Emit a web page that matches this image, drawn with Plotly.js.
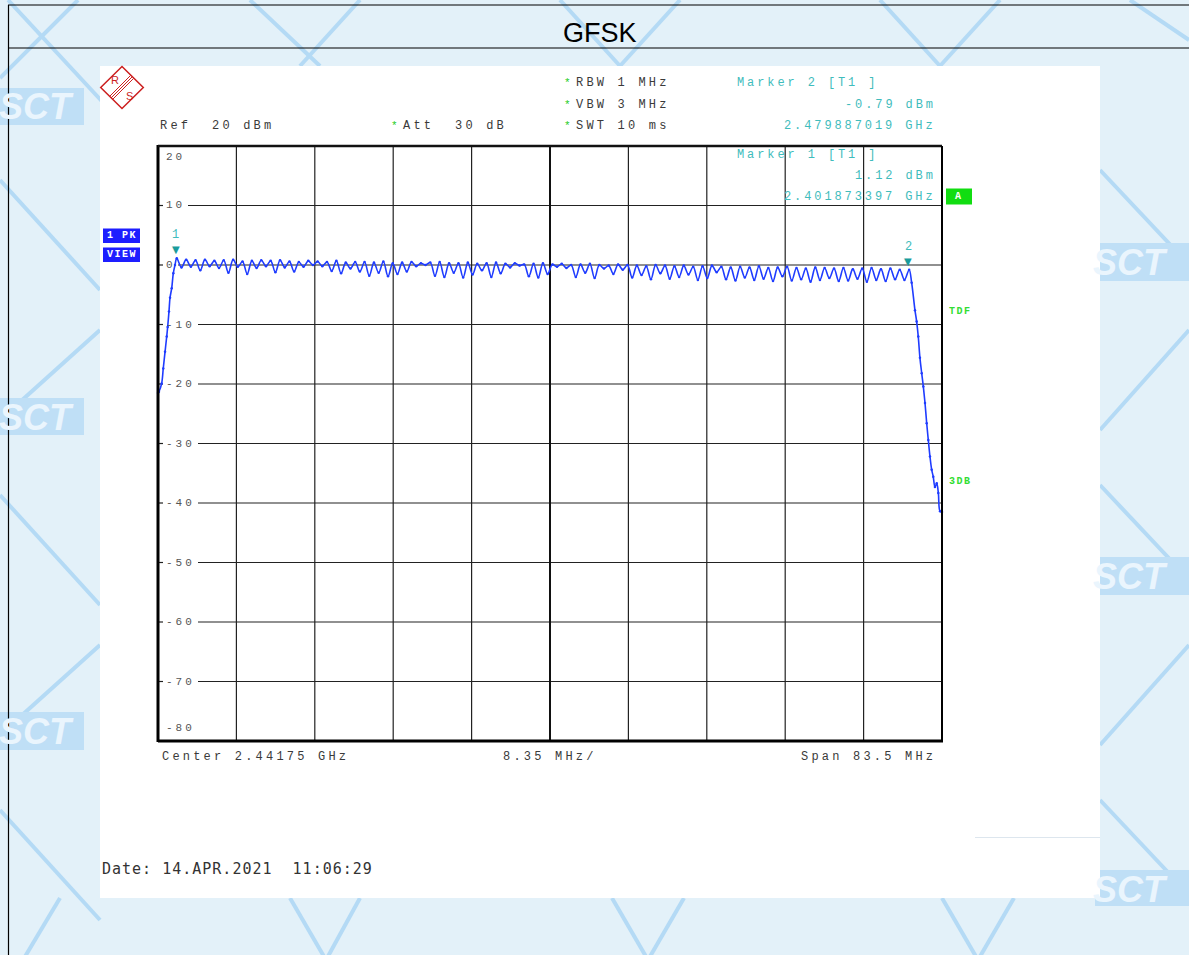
<!DOCTYPE html>
<html>
<head>
<meta charset="utf-8">
<script src="https://cdn.plot.ly/plotly-3.0.1.min.js"></script>
<style>html,body{margin:0;padding:0;background:#e3f1f9;}#chart{width:1189px;height:955px;}</style>
</head>
<body>
<div id="chart"></div>
<script>
// ---------------- DATA ----------------
const titleText = "GFSK";
const startMHz = 2400.0;
const stopMHz = 2483.5;
const refLevel = 20;
const bottomLevel = -80;
const yTickValues = [20, 10, 0, -10, -20, -30, -40, -50, -60, -70, -80];
const yTickLabels = ["20", "10", "0", "-10", "-20", "-30", "-40", "-50", "-60", "-70", "-80"];

// rising band edge (MHz, dBm)
const riseFreq = [2400.0, 2400.1, 2400.39, 2400.56, 2400.75, 2400.93, 2401.03, 2401.17, 2401.28, 2401.46, 2401.63, 2401.81];
const riseLevel = [-21.5, -21.3, -19.9, -17.4, -14.6, -12.0, -10.4, -7.8, -5.5, -3.9, -1.4, 0.0];

// hopping channel peaks 2402..2480 MHz (dBm)
const channelPeaks = [
  1.12, 0.9, 0.8, 0.9, 0.7, 0.8, 0.9, 0.6, 0.7, 0.8,
  0.7, 0.8, 0.6, 0.5, 0.7, 0.6, 0.5, 0.7, 0.4, 0.5,
  0.5, 0.4, 0.6, 0.3, 0.4, 0.5, 0.3, 0.4, 0.5, 0.3,
  0.3, 0.4, 0.2, 0.3, 0.4, 0.2, 0.3, 0.1, 0.2, 0.3,
  0.1, 0.2, 0.0, 0.1, 0.2, 0.0, -0.1, 0.1, 0.0, -0.1,
  -0.2, 0.0, -0.1, -0.2, -0.1, -0.3, -0.2, -0.1, -0.3, -0.4,
  -0.3, -0.4, -0.2, -0.5, -0.4, -0.3, -0.5, -0.6, -0.4, -0.5,
  -0.6, -0.5, -0.7, -0.6, -0.5, -0.7, -0.6, -0.8, -0.79
];
// dips between channels 2402.5..2479.5 MHz (dBm)
const channelDips = [
  -0.4, -0.3, -0.9, -0.2, -0.5, -1.3, -0.3, -1.5, -0.5, -0.2,
  -1.2, -0.4, -1.1, -0.3, 0.0, -0.2, -1.0, -1.4, -0.6, -1.1,
  -1.8, -1.3, -1.9, -1.5, -1.1, -0.2, 0.0, -1.8, -2.0, -1.3,
  -2.1, -1.6, -0.9, -2.0, -1.4, -0.4, -0.1, -1.9, -2.1, -1.5,
  -0.3, -0.5, -2.0, -1.3, -2.2, -0.6, -1.5, -0.8, -2.1, -1.7,
  -2.4, -1.4, -2.3, -2.0, -1.6, -2.5, -2.2, -1.2, -2.4, -2.6,
  -2.1, -2.5, -2.3, -2.7, -1.9, -2.6, -2.4, -2.8, -2.5, -2.2,
  -2.7, -2.6, -2.3, -2.8, -2.5, -2.7, -2.4, -2.5
];
const firstChannelMHz = 2402;

// falling band edge (MHz, dBm)
const fallFreq = [2480.27, 2480.62, 2480.8, 2480.97, 2481.15, 2481.34, 2481.51, 2481.69, 2481.87, 2482.04, 2482.22, 2482.4, 2482.57, 2482.75, 2482.94, 2483.11, 2483.29, 2483.5];
const fallLevel = [-3.0, -7.6, -9.5, -12.0, -15.6, -18.2, -20.4, -23.2, -26.6, -29.4, -32.2, -34.4, -35.6, -37.3, -36.7, -38.3, -41.4, -41.5];

// markers
const markerNames = ["1", "2"];
const markerFreq = [2401.873397, 2479.887019];
const markerLevel = [1.12, -0.79];

// ---------------- BUILD TRACE ----------------
const traceX = [], traceY = [];
riseFreq.forEach((f, i) => { traceX.push(f); traceY.push(riseLevel[i]); });
channelPeaks.forEach((p, i) => {
  traceX.push(firstChannelMHz + i); traceY.push(p);
  if (i < channelDips.length) { traceX.push(firstChannelMHz + i + 0.5); traceY.push(channelDips[i]); }
});
fallFreq.forEach((f, i) => { traceX.push(f); traceY.push(fallLevel[i]); });

// ---------------- LAYOUT HELPERS ----------------
const W = 1189, H = 955;
const px = x => x / W;
const py = y => 1 - y / H;
const PL = 158, PR = 942, PT = 146, PB = 741;

const shapes = [];
const annotations = [];

// watermark lines
const wmColor = "#b4daf5";
const wmLines = [
  [8, 0, 110, 110], [0, 78, 78, 0],
  [250, 0, 320, 66], [360, 0, 300, 66],
  [560, 0, 620, 66], [680, 0, 620, 66],
  [880, 0, 940, 66], [1000, 0, 940, 66],
  [1189, 40, 1130, 0], [1100, 170, 1180, 255], [1189, 330, 1100, 430],
  [1100, 485, 1180, 570], [1189, 645, 1100, 745], [1100, 800, 1180, 885],
  [0, 180, 100, 290], [100, 330, 0, 420], [0, 495, 100, 605], [100, 645, 0, 735], [0, 810, 100, 920],
  [60, 898, 23, 960], [290, 898, 326, 960], [360, 898, 326, 960], [612, 898, 648, 960],
  [684, 898, 648, 960], [942, 898, 978, 960], [1014, 898, 978, 960]
];
wmLines.forEach(l => shapes.push({type: "line", xref: "paper", yref: "paper", layer: "below",
  x0: px(l[0]), y0: py(l[1]), x1: px(l[2]), y1: py(l[3]), line: {color: wmColor, width: 4}}));
// watermark logo boxes
const wmLogos = [[-80, 88, 84, 125], [-80, 398, 84, 435], [-80, 712, 84, 750], [1095, 243, 1189, 281], [1095, 557, 1189, 595], [1095, 870, 1189, 906]];
wmLogos.forEach(b => shapes.push({type: "rect", xref: "paper", yref: "paper", layer: "below",
  x0: px(b[0]), y0: py(b[1]), x1: px(b[2]), y1: py(b[3]), line: {width: 0}, fillcolor: "#bfdff6"}));

// frame
shapes.push({type: "line", xref: "paper", yref: "paper", layer: "below", x0: px(8), y0: py(5), x1: 1, y1: py(5), line: {color: "#000", width: 1.2}});
shapes.push({type: "line", xref: "paper", yref: "paper", layer: "below", x0: px(8), y0: py(48), x1: 1, y1: py(48), line: {color: "#000", width: 1.2}});
shapes.push({type: "line", xref: "paper", yref: "paper", layer: "below", x0: px(8.5), y0: py(5), x1: px(8.5), y1: 0, line: {color: "#000", width: 1.2}});

// white panel
shapes.push({type: "rect", xref: "paper", yref: "paper", layer: "below", x0: px(100), y0: py(66), x1: px(1100), y1: py(898), line: {width: 0}, fillcolor: "#ffffff"});
shapes.push({type: "line", xref: "paper", yref: "paper", layer: "below", x0: px(975), y0: py(837.5), x1: px(1100), y1: py(837.5), line: {color: "#dde6ee", width: 1}});

// R&S logo
const red = "#cc1f1f";
shapes.push({type: "path", xref: "paper", yref: "paper", layer: "below",
  path: `M ${px(122)} ${py(66.5)} L ${px(143.3)} ${py(87.5)} L ${px(122)} ${py(108.5)} L ${px(100.7)} ${py(87.5)} Z`,
  line: {color: red, width: 1.5}, fillcolor: "rgba(0,0,0,0)"});
[-1.5, 0, 1.5].forEach(o => shapes.push({type: "line", xref: "paper", yref: "paper", layer: "below",
  x0: px(111 + o), y0: py(98 + o), x1: px(132 + o), y1: py(77 + o), line: {color: red, width: 1}}));
annotations.push({xref: "paper", yref: "paper", x: px(115), y: py(80), xanchor: "center", yanchor: "middle", text: "R", showarrow: false, font: {family: "Liberation Sans", size: 11, color: red}});
annotations.push({xref: "paper", yref: "paper", x: px(129), y: py(96), xanchor: "center", yanchor: "middle", text: "S", showarrow: false, font: {family: "Liberation Sans", size: 11, color: red}});

// grid: vertical lines from the x scale
for (let k = 1; k < 10; k++) {
  const f = startMHz + k * (stopMHz - startMHz) / 10;
  shapes.push({type: "line", xref: "x", yref: "y", layer: "below", x0: f, x1: f, y0: bottomLevel, y1: refLevel,
    line: {color: k === 5 ? "#111" : "#222", width: k === 5 ? 2 : 1.2}});
}
// horizontal grid with label gaps
yTickValues.forEach((v, i) => {
  if (v === refLevel || v === bottomLevel) return;
  const lab = yTickLabels[i];
  const gapEnd = 165 + lab.length * 10 + 3;
  shapes.push({type: "line", xref: "paper", yref: "y", layer: "below", x0: px(PL), x1: px(163), y0: v, y1: v, line: {color: "#222", width: 1.2}});
  shapes.push({type: "line", xref: "paper", yref: "y", layer: "below", x0: px(gapEnd), x1: px(PR), y0: v, y1: v, line: {color: "#222", width: 1.2}});
});
// plot border
shapes.push({type: "line", xref: "paper", yref: "paper", x0: px(PL), x1: px(PL), y0: py(PT - 1), y1: py(PB + 1), line: {color: "#000", width: 3}});
shapes.push({type: "line", xref: "paper", yref: "paper", x0: px(PL), x1: px(PR), y0: py(PT), y1: py(PT), line: {color: "#111", width: 2.5}});
shapes.push({type: "line", xref: "paper", yref: "paper", x0: px(PL), x1: px(PR + 1), y0: py(PB), y1: py(PB), line: {color: "#000", width: 3}});
shapes.push({type: "line", xref: "paper", yref: "paper", x0: px(PR), x1: px(PR), y0: py(PT), y1: py(PB), line: {color: "#000", width: 2}});

// y labels inside plot
yTickValues.forEach((v, i) => {
  let shift = 0;
  if (v === refLevel) shift = -11;
  if (v === bottomLevel) shift = 13;
  annotations.push({xref: "paper", yref: "y", x: px(164), y: v, yshift: shift, xanchor: "left", yanchor: "middle",
    text: `<span style="letter-spacing:3px">${yTickLabels[i]}</span>`, showarrow: false,
    font: {family: "Liberation Mono", size: 11, color: "#555"}});
});

// header texts
const mono = "Liberation Mono";
const gray = "#3a3a3a";
const teal = "#3fbcbc";
const green = "#22cc22";
function txt(x, y, s, color, anchor, size, spacing) {
  annotations.push({xref: "paper", yref: "paper", x: px(x), y: py(y), xanchor: anchor || "left", yanchor: "middle",
    text: `<span style="letter-spacing:${spacing === undefined ? 3.2 : spacing}px">${s}</span>`, showarrow: false,
    font: {family: mono, size: size || 12, color: color}});
}
txt(158, 126, "Ref  20 dBm", gray);
txt(389, 126, "*", green, "left", 11, 0);
txt(401, 126, "Att  30 dB", gray);
txt(562, 83, "*", green, "left", 11, 0);
txt(574, 83, "RBW 1 MHz", gray);
txt(562, 105, "*", green, "left", 11, 0);
txt(574, 105, "VBW 3 MHz", gray);
txt(562, 126, "*", green, "left", 11, 0);
txt(574, 126, "SWT 10 ms", gray);
txt(735, 83, "Marker 2 [T1 ]", teal, "left", 12, 2.9);
txt(938, 105, "-0.79 dBm", teal, "right", 12, 2.9);
txt(938, 126, "2.479887019 GHz", teal, "right", 12, 2.9);
txt(735, 155, "Marker 1 [T1 ]", teal, "left", 12, 2.9);
txt(938, 176, "1.12 dBm", teal, "right", 12, 2.9);
txt(938, 197, "2.401873397 GHz", teal, "right", 12, 2.9);
txt(160, 757, "Center 2.44175 GHz", gray);
txt(501, 757, "8.35 MHz/", gray);
txt(799, 757, "Span 83.5 MHz", gray);
annotations.push({xref: "paper", yref: "paper", x: px(100), y: py(869), xanchor: "left", yanchor: "middle",
  text: `<span style="letter-spacing:1px">Date: 14.APR.2021  11:06:29</span>`, showarrow: false,
  font: {family: "DejaVu Sans Mono", size: 15, color: "#333"}});

// side boxes
function box(x0, y0, x1, y1, color, s) {
  shapes.push({type: "rect", xref: "paper", yref: "paper", x0: px(x0), y0: py(y0), x1: px(x1), y1: py(y1), line: {width: 0}, fillcolor: color});
  annotations.push({xref: "paper", yref: "paper", x: px((x0 + x1) / 2), y: py((y0 + y1) / 2), xanchor: "center", yanchor: "middle",
    text: `<b><span style="letter-spacing:1.5px">${s}</span></b>`, showarrow: false, font: {family: mono, size: 10, color: "#fff"}});
}
box(103, 228.5, 140, 243, "#1e1eff", "1 PK");
box(103, 247.5, 140, 262, "#1e1eff", "VIEW");
box(946, 188.5, 972, 204.5, "#11dd11", "A");
annotations.push({xref: "paper", yref: "paper", x: px(947), y: py(311), xanchor: "left", yanchor: "middle",
  text: `<b><span style="letter-spacing:1.5px">TDF</span></b>`, showarrow: false, font: {family: mono, size: 10, color: "#33dd33"}});
annotations.push({xref: "paper", yref: "paper", x: px(947), y: py(481), xanchor: "left", yanchor: "middle",
  text: `<b><span style="letter-spacing:1.5px">3DB</span></b>`, showarrow: false, font: {family: mono, size: 10, color: "#33dd33"}});

// watermark text
const wmText = [[36, 106], [36, 417], [36, 731], [1130, 262], [1130, 576], [1130, 889]];
wmText.forEach(t => annotations.push({xref: "paper", yref: "paper", x: px(t[0]), y: py(t[1]), xanchor: "center", yanchor: "middle",
  text: "<b><i>SCT</i></b>", showarrow: false, font: {family: "Liberation Sans", size: 36, color: "#eaf5fd"}}));

// markers on trace
markerFreq.forEach((f, i) => {
  annotations.push({xref: "x", yref: "y", x: f, y: markerLevel[i], yshift: 1, xanchor: "center", yanchor: "bottom",
    text: "▼", showarrow: false, font: {family: "DejaVu Sans", size: 10, color: "#1a9c9c"}});
  annotations.push({xref: "x", yref: "y", x: f, y: markerLevel[i], yshift: 14, xanchor: "center", yanchor: "bottom",
    text: markerNames[i], showarrow: false, font: {family: mono, size: 12, color: teal}});
});

// title
annotations.push({xref: "paper", yref: "paper", x: px(600), y: py(33), xanchor: "center", yanchor: "middle",
  text: titleText, showarrow: false, font: {family: "Liberation Sans", size: 27, color: "#000"}});

const trace = {
  type: "scatter", mode: "lines+markers", x: traceX, y: traceY,
  line: {color: "#1f3cff", width: 1.6, shape: "spline", smoothing: 1},
  marker: {color: "#1f3cff", size: 2.5}, hoverinfo: "skip", cliponaxis: false
};

const layout = {
  width: W, height: H, margin: {l: 0, r: 0, t: 0, b: 0},
  paper_bgcolor: "#e3f1f9", plot_bgcolor: "rgba(0,0,0,0)",
  showlegend: false,
  xaxis: {domain: [px(PL), px(PR)], range: [startMHz, stopMHz], showgrid: false, zeroline: false, showticklabels: false, showline: false, ticks: "", fixedrange: true},
  yaxis: {domain: [py(PB), py(PT)], range: [bottomLevel, refLevel], showgrid: false, zeroline: false, showticklabels: false, showline: false, ticks: "", fixedrange: true},
  shapes: shapes, annotations: annotations
};
Plotly.newPlot("chart", [trace], layout, {staticPlot: true});
</script>
</body>
</html>
